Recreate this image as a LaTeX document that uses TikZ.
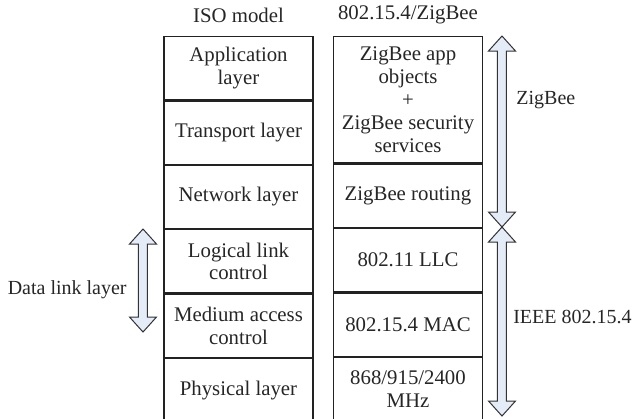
\documentclass[tikz,border=0pt]{standalone}
\usepackage{fontspec}
\setmainfont{Liberation Serif}
\usetikzlibrary{positioning}

\definecolor{bandfill}{HTML}{E4ECF7}
\definecolor{rule}{HTML}{222222}

% vertical two-headed band: x, top y, bottom y
\newcommand{\spanband}[3]{%
  \draw[band] (#1,#2) -- (#1+13.5,#2+15) -- (#1+4.5,#2+15) -- (#1+4.5,#3-15)
    -- (#1+13.5,#3-15) -- (#1,#3) -- (#1-13.5,#3-15) -- (#1-4.5,#3-15)
    -- (#1-4.5,#2+15) -- (#1-13.5,#2+15) -- cycle;}

\begin{document}
\begin{tikzpicture}[x=0.5pt,y=-0.5pt,node distance=0pt,
    txt/.style={font=\fontsize{10.4}{11.4}\selectfont,text=black!85},
    cell/.style={txt,draw=rule,line width=0.6pt,minimum width=74.5pt,
      minimum height=31.6pt,inner sep=1pt,align=center},
    tall/.style={cell,minimum height=63.2pt},
    lbl/.style={txt,inner sep=0pt},
    side/.style={lbl,font=\fontsize{10}{11.4}\selectfont},
    band/.style={draw=black!80,fill=bandfill,line width=0.5pt,line join=miter}]

    \useasboundingbox (0,0) rectangle (634,419);

    % ISO model column
    \node[lbl] (isohead) at (238.5,15) {ISO model};
    \node[cell,anchor=north] (app) at (238.5,36) {Application\\layer};
    \node[cell,below=of app] (trans) {Transport layer};
    \node[cell,below=of trans] (net) {Network layer};
    \node[cell,below=of net] (llc) {Logical link\\control};
    \node[cell,below=of llc] (mac) {Medium access\\control};
    \node[cell,below=of mac] (phy) {Physical layer};

    % 802.15.4/ZigBee column
    \node[lbl] (zbhead) at (408,15) {802.15.4/ZigBee};
    \node[tall,anchor=north] (zbapp) at (408,36)
        {ZigBee app\\objects\\+\\ZigBee security\\services};
    \node[cell,below=of zbapp] (zbroute) {ZigBee routing};
    \node[cell,below=of zbroute] (zbllc) {802.11 LLC};
    \node[cell,below=of zbllc] (zbmac) {802.15.4 MAC};
    \node[cell,below=of zbmac] (zbphy) {868/915/2400\\MHz};

    % spans
    \spanband{502}{36}{227}
    \spanband{502}{227}{416}
    \spanband{143}{229}{332}

    \node[side,anchor=west] (zigbee) at (516,100) {ZigBee};
    \node[side,anchor=east] (ieee) at (632,317) {IEEE 802.15.4};
    \node[side,anchor=east] (dll) at (127,290) {Data link layer};
\end{tikzpicture}
\end{document}
